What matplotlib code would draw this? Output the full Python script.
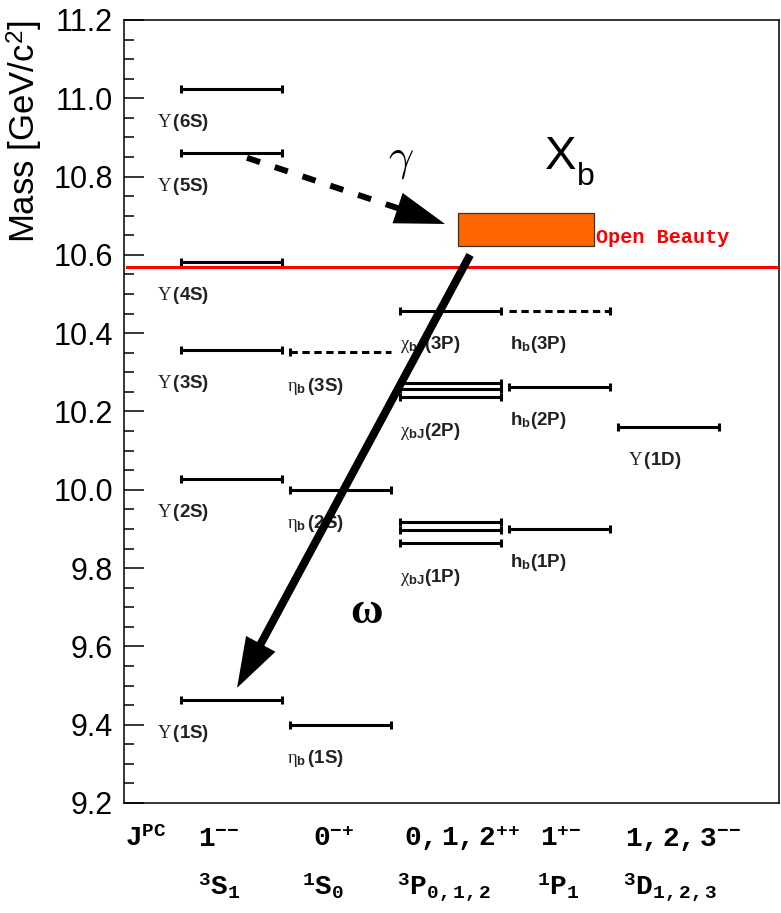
import matplotlib
matplotlib.use("Agg")
import matplotlib.pyplot as plt
import matplotlib.transforms as mtransforms
from matplotlib.patches import Rectangle
from matplotlib.ticker import MultipleLocator, FormatStrFormatter

plt.rcParams["font.family"] = ["Liberation Sans", "DejaVu Sans"]
plt.rcParams["mathtext.fontset"] = "custom"
plt.rcParams["mathtext.rm"] = "Liberation Serif"
plt.rcParams["mathtext.it"] = "Liberation Serif:italic"
plt.rcParams["mathtext.bf"] = "Liberation Sans:bold"
plt.rcParams["mathtext.sf"] = "Liberation Sans"
plt.rcParams["mathtext.tt"] = "Liberation Mono:bold"

# ---- bottomonium spectrum (masses in GeV/c^2) ----
# column index of each spectroscopic family
col_3S1, col_1S0, col_3P, col_1P1, col_3D = 1, 2, 3, 4, 5

upsilon_states = ["1S", "2S", "3S", "4S", "5S", "6S"]
upsilon_mass = [9.463, 10.028, 10.357, 10.583, 10.861, 11.023]

etab_states = ["1S", "2S", "3S"]
etab_mass = [9.399, 9.999, 10.351]
etab_observed = [True, True, False]

chib_states = ["1P", "2P", "3P"]
chib_mass = [[9.863, 9.897, 9.918], [10.236, 10.257, 10.274], [10.457]]

hb_states = ["1P", "2P", "3P"]
hb_mass = [9.900, 10.262, 10.457]
hb_observed = [True, True, False]

upsilon_d_states = ["1D"]
upsilon_d_mass = [10.161]

open_beauty_threshold = 10.570
xb_mass_range = (10.622, 10.706)

jpc_label = r"$\mathtt{J}^{\mathtt{PC}}$"
jpc_values = [r"$\mathtt{1}^{\mathtt{{-}{-}}}$", r"$\mathtt{0}^{\mathtt{{-}{+}}}$",
              r"$\mathtt{0,1,2}^{\mathtt{{+}{+}}}$", r"$\mathtt{1}^{\mathtt{{+}{-}}}$",
              r"$\mathtt{1,2,3}^{\mathtt{{-}{-}}}$"]
term_symbols = [r"${}^{\mathtt{3}}\mathtt{S}_{\mathtt{1}}$", r"${}^{\mathtt{1}}\mathtt{S}_{\mathtt{0}}$",
                r"${}^{\mathtt{3}}\mathtt{P}_{\mathtt{0,1,2}}$", r"${}^{\mathtt{1}}\mathtt{P}_{\mathtt{1}}$",
                r"${}^{\mathtt{3}}\mathtt{D}_{\mathtt{1,2,3}}$"]

# ---- layout / style ----
HALF = 0.462          # half width of a level line (column units)
LEVEL_LW = 2.2
CAP_MS = 6.0
LABEL_DY = -27.5      # label baseline below the level (points)

fig = plt.figure(figsize=(7.81, 9.13), dpi=100)
ax = fig.add_axes([0.1588, 0.1205, 0.8387, 0.8576])
ax.set_xlim(0.02, 6.007)
ax.set_ylim(9.2, 11.2)


def level(col, m, dashed=False, cap="both"):
    xs = [col - HALF, col + HALF]
    if not dashed:
        ax.plot(xs, [m, m], color="black", lw=LEVEL_LW, marker="|",
                ms=CAP_MS, mew=LEVEL_LW, solid_capstyle="butt", zorder=3)
    else:
        ax.plot(xs, [m, m], color="black", lw=LEVEL_LW,
                linestyle=(0, (2.4, 1.5)), dash_capstyle="butt", zorder=3)
        ax.plot([xs[0] if cap == "left" else xs[1]], [m], color="black",
                marker="|", ms=CAP_MS, mew=LEVEL_LW, zorder=3)


def label(col, m, text, dx):
    ax.annotate(text, xy=(col - HALF, m), xytext=(dx, LABEL_DY),
                textcoords="offset points", ha="left", va="baseline",
                fontsize=13.5, color="#222222")


# 3S1 : Upsilon(nS)
for st, m in zip(upsilon_states, upsilon_mass):
    level(col_3S1, m)
    label(col_3S1, m, r"$\Upsilon\,\mathbf{(%s)}$" % st, -17)

# 1S0 : eta_b(nS)
for st, m, obs in zip(etab_states, etab_mass, etab_observed):
    level(col_1S0, m, dashed=not obs, cap="left")
    label(col_1S0, m, r"$\mathrm{\eta}_{\mathbf{b}}\,\mathbf{(%s)}$" % st, -2)

# 3P : chi_bJ(nP)
for st, ms in zip(chib_states, chib_mass):
    for m in ms:
        level(col_3P, m)
    label(col_3P, min(ms), r"$\mathrm{\chi}_{\mathbf{bJ}}\mathbf{(%s)}$" % st, 0)

# 1P1 : h_b(nP)
for st, m, obs in zip(hb_states, hb_mass, hb_observed):
    level(col_1P1, m, dashed=not obs, cap="right")
    label(col_1P1, m, r"$\mathbf{h}_{\mathbf{b}}\mathbf{(%s)}$" % st, 1)

# 3D : Upsilon(1D)
for st, m in zip(upsilon_d_states, upsilon_d_mass):
    level(col_3D, m)
    label(col_3D, m, r"$\Upsilon\,\mathbf{(%s)}$" % st, 7)

# open-beauty threshold
ax.axhline(open_beauty_threshold, xmin=0.004, xmax=1.0, color="#ff0000", lw=2.2, zorder=4)

# X_b search window
xb_left, xb_right = 3.070, 4.314
ax.add_patch(Rectangle((xb_left, xb_mass_range[0]), xb_right - xb_left,
                       xb_mass_range[1] - xb_mass_range[0],
                       facecolor="#ff6600", edgecolor="#333333", lw=0.9, zorder=5))
ax.text(xb_right + 0.02, 0.5 * (xb_mass_range[0] + xb_mass_range[1]) - 0.02,
        "Open Beauty", color="#ff0000", fontsize=14.5, ha="left", va="center",
        family="Liberation Mono", fontweight="bold", zorder=6)
ax.text(3.865, 10.819, "X", fontsize=34, ha="left", va="baseline")
ax.text(4.163, 10.778, "b", fontsize=23, ha="left", va="baseline")


def arrow(start, end, lw, ls, head_len, head_half_w):
    ax.annotate("", xy=end, xytext=start,
                arrowprops=dict(arrowstyle="-", lw=lw, linestyle=ls, color="black",
                                shrinkA=0, shrinkB=head_len * 0.8, capstyle="butt"),
                zorder=7)
    ax.annotate("", xy=end, xytext=start,
                arrowprops=dict(arrowstyle="-|>,head_length=%.2f,head_width=%.2f"
                                % (head_len / 10.0, head_half_w / 10.0),
                                mutation_scale=10, lw=0, color="black",
                                shrinkA=0, shrinkB=0),
                zorder=7)


# Upsilon(5S) -> gamma X_b
arrow((1.144, 10.848), (2.954, 10.679), 4.3, (0, (2.3, 2.6)), 36, 11.5)
ax.text(2.55, 10.842, r"$\gamma$", fontsize=32, ha="center", va="center",
        math_fontfamily="cm")
# X_b -> omega Upsilon(1S)
arrow((3.183, 10.600), (1.053, 9.494), 5.8, "-", 36, 12.0)
ax.text(2.24, 9.688, "ω", fontsize=32, ha="center", va="center",
        family="Liberation Serif", fontweight="bold")

# quantum-number rows under the axis
trans = mtransforms.blended_transform_factory(ax.transData, ax.transAxes)
ax.text(0.03, -0.0549, jpc_label, transform=trans, fontsize=20, ha="left", va="baseline")
row1_x = [0.697, 1.748, 2.580, 3.823, 4.600]
row2_x = [0.698, 1.648, 2.516, 3.795, 4.581]
for x, t in zip(row1_x, jpc_values):
    ax.text(x, -0.0549, t, transform=trans, fontsize=20, ha="left", va="baseline")
for x, t in zip(row2_x, term_symbols):
    ax.text(x, -0.1175, t, transform=trans, fontsize=20, ha="left", va="baseline")

# axes styling
ax.yaxis.set_major_locator(MultipleLocator(0.2))
ax.yaxis.set_minor_locator(MultipleLocator(0.05))
ax.yaxis.set_major_formatter(FormatStrFormatter("%.1f"))
ax.tick_params(axis="y", which="major", direction="in", length=14.5, width=1.1,
               labelsize=22, pad=8, right=False)
ax.tick_params(axis="y", which="minor", direction="in", length=7.5, width=1.1, right=False)
ax.tick_params(axis="x", which="both", bottom=False, top=False, labelbottom=False)
for sp in ax.spines.values():
    sp.set_linewidth(1.1)

ax.set_ylabel(r"Mass [GeV/c$^{\mathsf{2}}$]", fontsize=25, loc="top")
ax.yaxis.set_label_coords(-0.1206, 1.0)

fig.savefig("out.png", dpi=100, facecolor="white")
